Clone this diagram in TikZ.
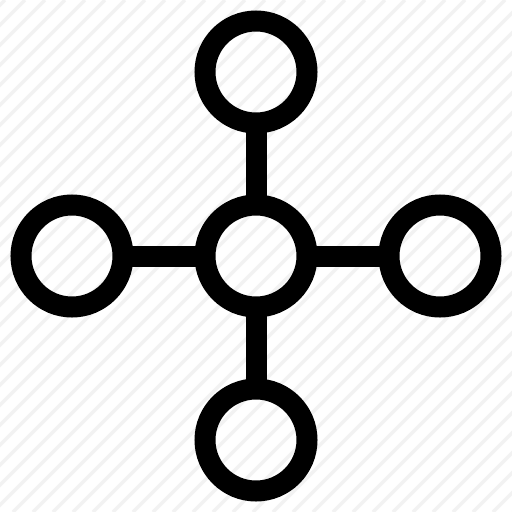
\documentclass[tikz,border=0pt]{standalone}
\usetikzlibrary{positioning}

\begin{document}
\begin{tikzpicture}[x=1pt,y=-1pt,
    ring/.style={circle, draw=black, line width=21pt, minimum size=102pt, inner sep=0pt},
    link/.style={draw=black, line width=21pt, shorten <=-3pt, shorten >=-3pt},
    stripe/.style={draw=black!5, line width=3.5pt}]
  \useasboundingbox (0,0) rectangle (512,512);
  \fill[white] (0,0) rectangle (512,512);
  \begin{scope}
    \clip (0,0) rectangle (512,512);
    \foreach \c in {5,25,...,1045}
      \draw[stripe] (\c,0) -- (\c-512,512);
  \end{scope}
  \node[ring] (hub) at (256,256) {};
  \node[ring, above=61pt of hub] (top) {};
  \node[ring, below=61pt of hub] (bottom) {};
  \node[ring, left=61pt of hub] (left) {};
  \node[ring, right=61pt of hub] (right) {};
  \path[link] (hub) -- (top);
  \path[link] (hub) -- (bottom);
  \path[link] (hub) -- (left);
  \path[link] (hub) -- (right);
\end{tikzpicture}
\end{document}
